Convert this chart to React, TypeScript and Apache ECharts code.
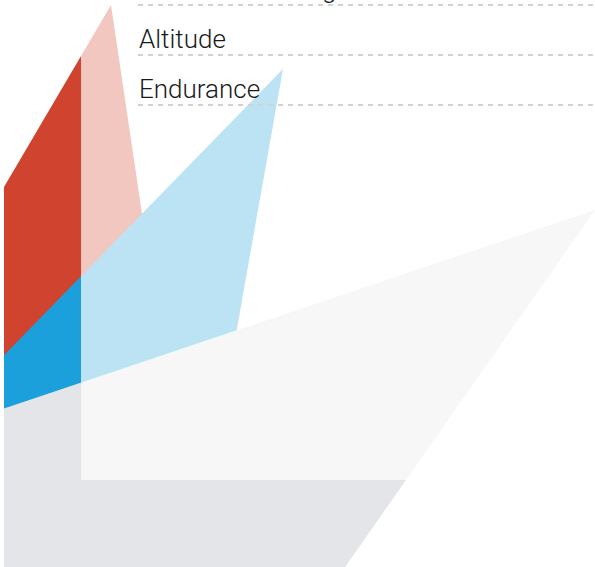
import React, { useEffect, useRef } from "react";
import * as echarts from "echarts";

// Polygon vertices in chart units (x to the right, y downward)
const redShape: number[][] = [[-60, 296], [111, 5], [149, 261], [60, 400], [-60, 400]];
const blueShape: number[][] = [[-60, 421], [283, 69], [219, 430], [-60, 480]];
const grayShape: number[][] = [[-60, 430], [595, 210], [329, 590], [-60, 590]];
const overlayBox: number[][] = [[81, -20], [640, 480]];

const labelNames: string[] = ["Takeoff & landing", "Altitude", "Endurance"];
const labelLines: number[] = [5, 55, 105];
const labelStartX = 138;
const labelEndX = 600;

const shapeColors: string[] = ["#d0432e", "#1ba0db", "#e4e5e8"];

export default function App() {
  const ref = useRef<HTMLDivElement>(null);
  useEffect(() => {
    if (!ref.current) return;
    const chart = echarts.init(ref.current, null, { renderer: "svg" });
    const shapes = [redShape, blueShape, grayShape];
    const polySeries = shapes.map((pts, i) => ({
      type: "custom",
      coordinateSystem: "cartesian2d",
      clip: true,
      z: 2 + i,
      data: [0],
      renderItem: (params: any, api: any) => ({
        type: "polygon",
        shape: { points: pts.map((p) => api.coord(p)) },
        style: { fill: shapeColors[i] },
      }),
    }));
    const option: any = {
      animation: false,
      grid: { left: 4, right: 0, top: 0, bottom: 0 },
      xAxis: {
        type: "value",
        min: 4,
        max: 595,
        show: false,
      },
      yAxis: {
        type: "value",
        min: 0,
        max: 567,
        inverse: true,
        show: false,
      },
      series: [
        ...polySeries,
        {
          type: "custom",
          coordinateSystem: "cartesian2d",
          clip: true,
          z: 10,
          data: [0],
          renderItem: (params: any, api: any) => {
            const a = api.coord(overlayBox[0]);
            const b = api.coord(overlayBox[1]);
            return {
              type: "rect",
              shape: { x: a[0], y: a[1], width: b[0] - a[0], height: b[1] - a[1] },
              style: { fill: "rgba(255,255,255,0.7)" },
            };
          },
        },
        {
          type: "custom",
          coordinateSystem: "cartesian2d",
          clip: false,
          z: 20,
          data: labelNames.map((n, i) => [labelStartX, labelLines[i]]),
          renderItem: (params: any, api: any) => {
            const i = params.dataIndex;
            const s = api.coord([labelStartX, labelLines[i]]);
            const e = api.coord([labelEndX, labelLines[i]]);
            return {
              type: "group",
              children: [
                {
                  type: "line",
                  shape: { x1: s[0], y1: s[1], x2: e[0], y2: e[1] },
                  style: { stroke: "#d2d2d2", lineWidth: 2, lineDash: [5, 5] },
                },
                {
                  type: "text",
                  x: s[0] + 1,
                  y: s[1] - 16,
                  style: {
                    text: labelNames[i],
                    fill: "#1a1a1a",
                    font: "300 26px Roboto, 'DejaVu Sans', sans-serif",
                    align: "left",
                    verticalAlign: "middle",
                  },
                },
              ],
            };
          },
        },
      ],
    };
    chart.setOption(option);
    return () => chart.dispose();
  }, []);
  return (
    <div
      ref={ref}
      style={{ position: "fixed", left: 0, top: 0, width: 595, height: 567, background: "#fff" }}
    />
  );
}
